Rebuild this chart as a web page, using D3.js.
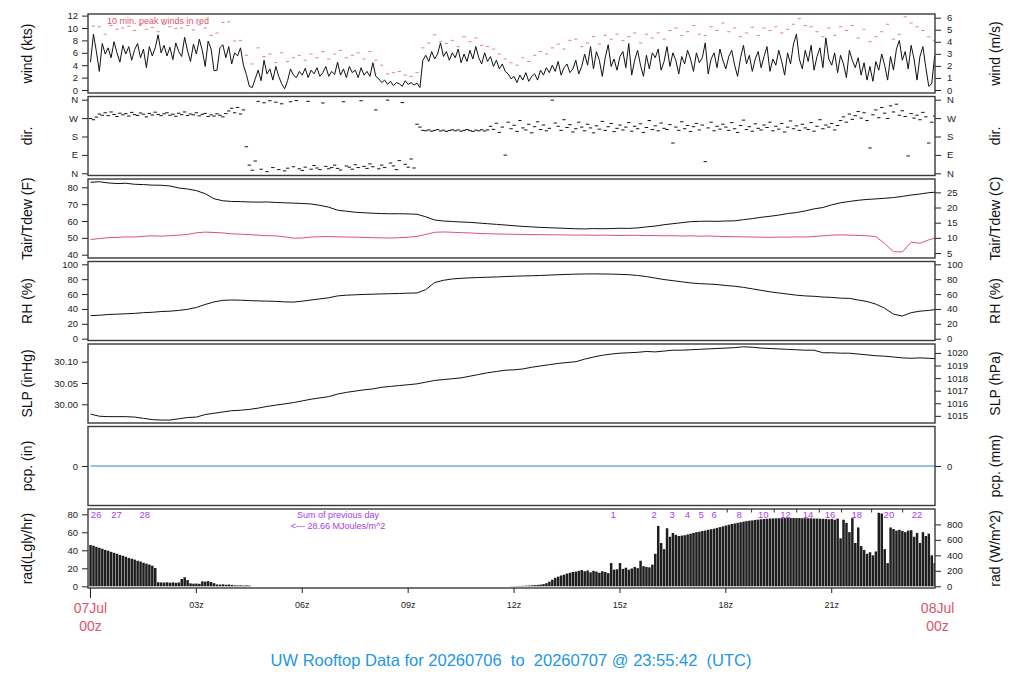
<!DOCTYPE html>
<html>
<head>
<meta charset="utf-8">
<script src="https://cdn.jsdelivr.net/npm/d3@7"></script>
<style>
  body { margin: 0; background: #fff; }
  text { font-family: "Liberation Sans", Arial, sans-serif; }
</style>
</head>
<body>
<svg id="chart"></svg>
<script>
/* DATA */
// wind speed, kts, 5-min samples from 00z
const windKts = [
  4.5, 9.0, 6.2, 3.0, 7.5, 5.8, 6.8, 5.2, 7.8, 6.0, 4.5, 7.2,
  5.8, 7.0, 4.8, 6.5, 7.5, 5.2, 6.6, 3.6, 7.0, 5.5, 6.8, 8.9,
  6.0, 7.2, 5.5, 6.9, 4.9, 7.6, 6.2, 5.4, 8.5, 6.3, 4.6, 7.4,
  5.8, 8.2, 6.4, 3.8, 7.9, 6.6, 3.1, 3.2, 6.8, 7.3, 5.2, 7.0,
  4.2, 6.0, 5.5, 6.8, 4.0, 2.5, 0.6, 0.4, 1.8, 3.2, 1.5, 4.8,
  2.6, 3.4, 1.6, 3.8, 2.2, 1.0, 0.2, 1.5, 3.4, 2.4, 2.0, 3.0,
  2.4, 3.5, 2.0, 3.2, 2.6, 3.6, 2.2, 2.8, 3.8, 2.2, 3.0, 2.5,
  4.5, 2.4, 3.4, 2.0, 3.8, 2.8, 3.2, 2.0, 3.6, 2.4, 3.0, 2.2,
  4.4, 2.2, 1.8, 1.2, 1.6, 0.9, 1.4, 0.7, 1.2, 1.0, 0.6, 1.5,
  0.9, 1.2, 0.8, 1.1, 0.4, 4.8, 5.6, 4.6, 6.2, 5.0, 5.8, 7.6,
  5.4, 6.2, 4.8, 6.0, 5.2, 6.6, 4.4, 5.8, 4.6, 6.4, 5.0, 7.0,
  5.2, 4.2, 6.0, 4.6, 5.4, 3.8, 4.8, 3.4, 4.2, 3.0, 2.6, 1.8,
  2.2, 1.2, 2.4, 1.6, 2.8, 1.4, 2.2, 2.6, 1.6, 3.2, 2.4, 3.6,
  2.8, 4.0, 3.0, 4.6, 2.4, 3.6, 4.2, 2.8, 3.4, 4.8, 2.6, 3.8,
  5.8, 4.0, 7.0, 3.4, 6.2, 4.8, 2.2, 5.2, 7.3, 3.8, 5.0, 3.2,
  5.4, 6.2, 3.6, 7.5, 2.4, 4.8, 6.4, 4.0, 2.2, 5.6, 3.4, 6.0,
  5.2, 6.6, 3.2, 4.6, 7.0, 3.8, 6.0, 4.8, 2.6, 5.4, 4.2, 6.4,
  5.0, 3.0, 6.0, 4.4, 5.2, 7.6, 2.6, 5.0, 6.0, 3.6, 6.6, 4.8,
  3.4, 5.4, 6.4, 4.0, 2.2, 5.2, 7.2, 4.2, 5.6, 3.0, 5.0, 6.2,
  3.6, 5.4, 7.0, 3.0, 5.0, 4.0, 6.4, 4.6, 2.4, 6.0, 4.2, 7.4,
  9.0, 5.0, 3.4, 6.4, 4.6, 7.2, 3.2, 5.4, 6.8, 3.6, 8.4, 5.0,
  4.0, 6.0, 2.8, 5.6, 4.2, 2.0, 6.4, 4.8, 3.6, 5.2, 2.4, 4.4,
  1.6, 3.8, 1.4, 4.6, 3.2, 5.8, 4.0, 1.6, 5.4, 3.2, 6.6, 8.0,
  4.8, 6.2, 3.4, 7.2, 5.0, 1.6, 5.4, 7.0, 3.6, 0.6, 1.0, 5.5
];
// 10 min peak winds, kts
const gustKts = [
  10.3, 10.2, 9.0, 10.4, 9.8, 10.0,
  10.3, 9.6, 10.5, 9.8, 10.1, 9.4,
  10.6, 10.2, 9.9, 10.0, 10.4, 9.7,
  10.5, 10.0, 8.8, 9.2, 10.9, 11.0,
  7.9, 8.0, 5.6, 4.2, 6.8, 5.4,
  5.8, 4.4, 6.0, 4.6, 5.2, 5.6,
  4.8, 5.8, 5.2, 6.2, 5.0, 5.8,
  6.4, 5.2, 5.6, 6.0, 5.0, 6.2,
  4.8, 4.0, 2.6, 2.8, 3.0, 2.4,
  2.2, 2.8, 6.8, 7.6, 8.9, 7.8,
  7.5, 8.0, 7.0, 8.6, 7.8, 8.4,
  7.2, 7.0, 6.6, 5.8, 5.0, 4.4,
  4.0, 5.2, 4.6, 5.6, 6.2, 5.8,
  6.8, 7.4, 6.6, 8.0, 8.2, 7.0,
  7.6, 8.6, 7.4, 8.8, 8.2, 9.0,
  8.0, 8.6, 9.2, 7.6, 9.0, 8.4,
  9.2, 8.2, 9.6, 10.0, 8.8, 9.4,
  10.4, 9.0, 8.8, 10.2, 9.6, 10.8,
  9.4, 10.0, 8.6, 9.2, 10.1, 8.8,
  10.0, 9.6, 10.2, 9.2, 9.8, 10.6,
  11.5, 10.4, 10.2, 9.4, 8.6, 10.0,
  8.8, 10.2, 9.6, 10.4, 8.4, 9.8,
  7.8, 8.6, 9.4, 10.6, 8.2, 9.0,
  11.8, 10.8, 10.2, 9.6, 8.6, 8.0
];
// wind direction, degrees, 5-min samples
const windDir = [
  268, 262, 275, 290, 284, 296, 282, 300, 288, 278, 294, 286,
  292, 280, 298, 287, 283, 295, 289, 276, 293, 285, 299, 288,
  282, 291, 296, 284, 289, 279, 294, 287, 300, 283, 290, 286,
  296, 281, 289, 293, 278, 286, 280, 291, 284, 276, 292, 305,
  318, 296, 322, 290, 310, 130, 40, 15, 60, 352, 20, 345,
  8, 355, 28, 348, 18, 340, 12, 25, 350, 32, 356, 22,
  14, 30, 352, 20, 38, 26, 18, 344, 34, 22, 28, 40,
  24, 16, 350, 36, 30, 20, 42, 28, 355, 34, 24, 46,
  32, 310, 22, 40, 28, 358, 50, 36, 18, 62, 346, 44,
  30, 70, 26, 240, 226, 210, 208, 212, 206, 210, 214, 207,
  211, 205, 209, 213, 208, 212, 206, 210, 214, 209, 205, 211,
  208, 213, 207, 212, 230, 215, 245, 200, 226, 89, 250, 218,
  235, 205, 258, 222, 212, 240, 198, 228, 252, 214, 236, 208,
  220, 358, 246, 230, 210, 262, 224, 238, 202, 218, 250, 226,
  208, 240, 222, 198, 232, 216, 254, 210, 228, 244, 204, 220,
  236, 212, 226, 248, 206, 230, 218, 242, 200, 224, 258, 214,
  232, 208, 246, 220, 214, 238, 148, 226, 210, 252, 218, 234,
  204, 228, 244, 212, 236, 57, 222, 250, 208, 230, 216, 240,
  226, 210, 248, 218, 200, 234, 260, 214, 228, 206, 242, 220,
  212, 236, 224, 250, 208, 230, 216, 244, 202, 226, 256, 218,
  232, 210, 240, 222, 214, 248, 206, 230, 262, 218, 236, 226,
  244, 212, 234, 258, 276, 250, 290, 264, 282, 302, 270, 296,
  258, 124, 286, 310, 272, 322, 294, 268, 330, 300, 338, 284,
  306, 278, 85, 292, 270, 284, 262, 298, 276, 148, 250, 280
];
// air temperature, F, 15-min samples
const tairF = [
  83.0, 83.3, 82.6, 82.2, 82.4, 81.8, 81.6, 81.3, 81.2, 80.8, 79.6, 79.0, 78.0, 76.2, 73.2, 72.0,
  71.6, 71.5, 71.3, 71.2, 71.3, 71.0, 70.8, 70.6, 70.4, 70.1, 69.3, 68.2, 66.4, 65.8, 65.2, 64.9,
  64.6, 64.4, 64.3, 64.3, 64.2, 64.0, 62.5, 60.6, 60.0, 59.7, 59.4, 59.2, 58.8, 58.4, 58.0, 57.6,
  57.2, 56.8, 56.5, 56.2, 56.0, 55.8, 55.6, 55.4, 55.3, 55.5, 55.4, 55.5, 55.7, 55.6, 55.9, 56.5,
  57.0, 57.8, 58.4, 59.0, 59.6, 59.8, 59.9, 59.8, 60.0, 60.1, 60.8, 61.4, 62.2, 62.8, 63.5, 64.4,
  65.0, 66.0, 67.2, 68.0, 69.6, 70.8, 71.6, 72.3, 72.8, 73.1, 73.5, 73.9, 74.6, 75.4, 76.0, 76.8,
  77.2
];
// dew point, F, 15-min samples
const tdewF = [
  49.0, 49.6, 50.1, 50.3, 50.6, 50.5, 50.9, 51.2, 51.0, 51.3, 51.6, 52.0, 53.0, 53.4, 53.2, 52.9,
  52.4, 52.2, 51.9, 51.6, 51.3, 51.2, 50.6, 49.8, 49.9, 50.5, 50.7, 50.8, 50.6, 50.5, 50.4, 50.3,
  50.1, 50.0, 49.9, 50.1, 50.4, 50.9, 52.0, 53.3, 53.5, 53.3, 53.1, 52.9, 52.6, 52.5, 52.3, 52.2,
  52.1, 52.0, 51.9, 51.9, 51.8, 51.8, 51.7, 51.6, 51.7, 51.5, 51.6, 51.5, 51.4, 51.5, 51.5, 51.3,
  51.4, 51.2, 51.3, 51.1, 51.2, 51.0, 51.1, 50.9, 50.8, 50.7, 50.6, 50.5, 50.4, 50.3, 50.5, 50.4,
  50.6, 50.5, 50.8, 51.2, 51.6, 51.8, 51.6, 51.4, 51.2, 50.8, 46.6, 41.8, 41.6, 47.4, 46.8, 48.8,
  50.3
];
// relative humidity, %, 15-min samples
const rhPct = [
  31.0, 31.5, 32.5, 33.0, 33.5, 34.0, 35.0, 35.5, 36.5, 37.0, 38.0, 39.5, 42.0, 46.0, 49.5, 51.5,
  52.0, 51.8, 51.2, 50.8, 50.5, 50.2, 49.5, 49.2, 50.5, 52.0, 53.5, 55.0, 57.5, 58.5, 59.0, 59.5,
  59.8, 60.2, 60.5, 60.8, 61.2, 61.5, 66.0, 75.5, 78.5, 80.3, 81.2, 81.8, 82.2, 82.6, 83.0, 83.5,
  84.0, 84.3, 84.6, 85.0, 85.5, 86.0, 86.4, 86.8, 87.0, 87.1, 87.0, 86.8, 86.5, 86.0, 85.0, 83.5,
  81.5, 79.5, 78.0, 76.5, 75.0, 74.0, 73.5, 72.8, 71.5, 70.5, 69.0, 67.0, 65.0, 63.0, 61.5, 60.0,
  58.5, 57.5, 57.0, 56.0, 55.5, 54.5, 54.2, 52.0, 50.0, 46.5, 41.0, 33.0, 30.5, 35.0, 37.0, 38.0,
  39.5
];
// sea level pressure, inHg, 15-min samples
const slpInHg = [
  29.977, 29.972, 29.971, 29.971, 29.971, 29.970, 29.967, 29.964, 29.963, 29.963, 29.966, 29.969, 29.970, 29.976, 29.979, 29.982,
  29.985, 29.986, 29.988, 29.991, 29.995, 29.998, 30.001, 30.004, 30.008, 30.012, 30.015, 30.018, 30.024, 30.028, 30.031, 30.034,
  30.036, 30.040, 30.042, 30.044, 30.046, 30.048, 30.052, 30.056, 30.058, 30.060, 30.062, 30.066, 30.070, 30.074, 30.077, 30.080,
  30.081, 30.083, 30.087, 30.090, 30.093, 30.096, 30.098, 30.100, 30.106, 30.111, 30.115, 30.118, 30.120, 30.121, 30.122, 30.124,
  30.123, 30.125, 30.127, 30.127, 30.128, 30.129, 30.130, 30.131, 30.132, 30.133, 30.135, 30.134, 30.132, 30.131, 30.130, 30.129,
  30.128, 30.127, 30.127, 30.121, 30.121, 30.120, 30.120, 30.118, 30.116, 30.114, 30.113, 30.111, 30.109, 30.108, 30.109, 30.108,
  30.107
];
// precipitation, in, hourly
const pcpIn = [0, 0, 0, 0, 0, 0, 0, 0, 0, 0, 0, 0, 0, 0, 0, 0, 0, 0, 0, 0, 0, 0, 0, 0, 0];
// solar radiation, W/m^2, 5-min samples
const radWm2 = [
  533, 524, 510, 497, 485, 470, 460, 445, 433, 421, 405, 395,
  382, 366, 356, 345, 330, 320, 304, 293, 281, 266, 236, 52,
  50, 48, 52, 47, 50, 45, 50, 95, 116, 80, 38, 34,
  36, 32, 64, 60, 66, 55, 40, 24, 22, 25, 20, 23,
  18, 12, 11, 13, 10, 12, 9, 0, 0, 0, 0, 0,
  0, 0, 0, 0, 0, 0, 0, 0, 0, 0, 0, 0,
  0, 0, 0, 0, 0, 0, 0, 0, 0, 0, 0, 0,
  0, 0, 0, 0, 0, 0, 0, 0, 0, 0, 0, 0,
  0, 0, 0, 0, 0, 0, 0, 0, 0, 0, 0, 0,
  0, 0, 0, 0, 0, 0, 0, 0, 0, 0, 0, 0,
  0, 0, 0, 0, 0, 0, 0, 0, 0, 0, 0, 0,
  0, 0, 0, 0, 0, 0, 0, 0, 0, 0, 0, 2,
  3, 4, 5, 6, 8, 10, 12, 15, 18, 22, 28, 40,
  60, 85, 110, 125, 140, 150, 165, 175, 185, 190, 200, 210,
  195, 205, 180, 200, 190, 175, 195, 185, 170, 300, 215, 220,
  300, 225, 240, 215, 230, 250, 235, 330, 260, 250, 245, 280,
  420, 780, 560, 480, 750, 640, 690, 665, 650, 655, 660, 670,
  680, 690, 700, 705, 715, 720, 730, 738, 745, 755, 765, 775,
  785, 795, 805, 812, 820, 828, 835, 842, 848, 852, 858, 862,
  866, 870, 872, 875, 877, 878, 880, 880, 881, 882, 882, 882,
  881, 882, 880, 880, 879, 878, 876, 875, 873, 872, 870, 866,
  870, 860, 875, 620, 860, 820, 700, 880, 560, 760, 520, 470,
  420, 440, 400, 450, 950, 940, 480, 300, 760, 740, 720, 730,
  715, 700, 720, 725, 640, 690, 560, 700, 650, 680, 400, 300
];
// running daily radiation sum marks (MJ/m^2), hour they were reached
const radMarkHour = [0.16, 0.74, 1.54, 14.81, 15.97, 16.48, 16.91, 17.30, 17.67, 18.04, 18.38, 18.73,
  19.06, 19.37, 19.69, 20.01, 20.33, 20.65, 20.95, 21.28, 21.71, 22.13, 22.62, 23.01, 23.42];
const radMarkText = ["26", "27", "28", "1", "2", "3", "4", "5", "6", "", "8", "",
  "10", "", "12", "", "14", "", "16", "", "18", "", "20", "", "22"];
const prevDaySum = 28.66;

const hourTicks = [0, 3, 6, 9, 12, 15, 18, 21];
const hourTickText = ["", "03z", "06z", "09z", "12z", "15z", "18z", "21z"];
const dayHours = [0, 24];
const dayText = ["07Jul", "08Jul"];

/* LAYOUT */
const width = 1024, height = 700;
const frameL = 88, frameR = 935, panelH = 79;
const panelTop = [14, 96.5, 179, 261.5, 344, 426.5, 509];
const red = "#DF536B", blue = "#2297E6", purple = "#A83AF0";
const KTS_PER_MS = 1.944, HPA_PER_INHG = 33.8639, WM2_PER_LGLY = 11.63;

const svg = d3.select("#chart").attr("width", width).attr("height", height);
svg.append("rect").attr("width", width).attr("height", height).attr("fill", "#fff");

const x = d3.scaleLinear().domain([0, 24]).range([90.5, 937.6]);

/* PANEL HELPERS */
function plotArea(k) {
  svg.append("clipPath").attr("id", "clip" + k)
    .append("rect")
    .attr("x", frameL).attr("y", panelTop[k])
    .attr("width", frameR - frameL).attr("height", panelH);
  return svg.append("g").attr("clip-path", `url(#clip${k})`);
}

function styleAxis(g) {
  g.select(".domain").remove();
  g.attr("font-size", "9.5px").attr("font-family", "Liberation Sans, Arial, sans-serif");
  g.selectAll(".tick line").attr("stroke", "#222");
  g.selectAll(".tick text").attr("fill", "#222");
}

function leftAxis(scale, values, fmt) {
  svg.append("g").attr("transform", `translate(${frameL},0)`)
    .call(d3.axisLeft(scale).tickValues(values).tickFormat(fmt || (d => d)).tickSize(6).tickPadding(4))
    .call(styleAxis);
}

function rightAxis(scale, values, fmt) {
  svg.append("g").attr("transform", `translate(${frameR},0)`)
    .call(d3.axisRight(scale).tickValues(values).tickFormat(fmt || (d => d)).tickSize(6).tickPadding(6))
    .call(styleAxis);
}

function sideTitle(txt, xc, k) {
  svg.append("text")
    .attr("transform", `translate(${xc},${panelTop[k] + panelH / 2}) rotate(-90)`)
    .attr("text-anchor", "middle")
    .attr("dominant-baseline", "central")
    .attr("font-size", "14px")
    .attr("fill", "#111")
    .text(txt);
}

/* 1. WIND */
let pTop = panelTop[0];
const yWind = d3.scaleLinear().domain([0, 12]).range([pTop + 76, pTop + 1.6]);
const yWindMs = d3.scaleLinear().domain([0, 12 / KTS_PER_MS]).range([pTop + 76, pTop + 1.6]);
const windArea = plotArea(0);
windArea.selectAll("rect.gust")
  .data(gustKts)
  .join("rect")
  .attr("class", "gust")
  .attr("x", (d, i) => x(i / 6 + 1 / 12) - 1.6)
  .attr("y", d => yWind(d) - 0.5)
  .attr("width", 3.2).attr("height", 1)
  .attr("fill", red).attr("opacity", 0.75);
windArea.append("path")
  .datum(windKts)
  .attr("fill", "none")
  .attr("stroke", "#111")
  .attr("stroke-width", 1)
  .attr("d", d3.line().x((d, i) => x(i / 12)).y(d => yWind(d)));
svg.append("text")
  .attr("x", 107).attr("y", pTop + 9.5)
  .attr("font-size", "9px").attr("fill", red)
  .text("10 min. peak winds in red");
leftAxis(yWind, [0, 2, 4, 6, 8, 10, 12]);
rightAxis(yWindMs, [0, 1, 2, 3, 4, 5, 6]);
sideTitle("wind (kts)", 27, 0);
sideTitle("wind (m/s)", 995, 0);

/* 2. DIRECTION */
pTop = panelTop[1];
const yDir = d3.scaleLinear().domain([0, 360]).range([pTop + 76.8, pTop + 3.2]);
const compass = d => ({0: "N", 90: "E", 180: "S", 270: "W", 360: "N"})[d];
plotArea(1).selectAll("rect.dir")
  .data(windDir)
  .join("rect")
  .attr("class", "dir")
  .attr("x", (d, i) => x(i / 12) - 1.7)
  .attr("y", d => yDir(d) - 0.5)
  .attr("width", 3.4).attr("height", 1)
  .attr("fill", "#111");
leftAxis(yDir, [0, 90, 180, 270, 360], compass);
rightAxis(yDir, [0, 90, 180, 270, 360], compass);
sideTitle("dir.", 27, 1);
sideTitle("dir.", 995, 1);

/* 3. TEMPERATURE / DEW POINT */
pTop = panelTop[2];
const yTemp = d3.scaleLinear().domain([40, 80]).range([pTop + 75.7, pTop + 8.3]);
const yTempC = d3.scaleLinear().domain([(40 - 32) * 5 / 9, (80 - 32) * 5 / 9]).range([pTop + 75.7, pTop + 8.3]);
const tempArea = plotArea(2);
const qline = y => d3.line().x((d, i) => x(i / 4)).y(d => y(d));
tempArea.append("path").datum(tdewF)
  .attr("fill", "none").attr("stroke", red).attr("stroke-width", 1)
  .attr("d", qline(yTemp));
tempArea.append("path").datum(tairF)
  .attr("fill", "none").attr("stroke", "#111").attr("stroke-width", 1)
  .attr("d", qline(yTemp));
leftAxis(yTemp, [40, 50, 60, 70, 80]);
rightAxis(yTempC, [5, 10, 15, 20, 25]);
sideTitle("Tair/Tdew (F)", 27, 2);
sideTitle("Tair/Tdew (C)", 995, 2);

/* 4. RELATIVE HUMIDITY */
pTop = panelTop[3];
const yRH = d3.scaleLinear().domain([0, 100]).range([pTop + 77.2, pTop + 2.8]);
plotArea(3).append("path").datum(rhPct)
  .attr("fill", "none").attr("stroke", "#111").attr("stroke-width", 1)
  .attr("d", qline(yRH));
leftAxis(yRH, [0, 20, 40, 60, 80, 100]);
rightAxis(yRH, [0, 20, 40, 60, 80, 100]);
sideTitle("RH (%)", 27, 3);
sideTitle("RH (%)", 995, 3);

/* 5. SEA LEVEL PRESSURE */
pTop = panelTop[4];
const ySlp = d3.scaleLinear().domain([30.00, 30.10]).range([pTop + 60.3, pTop + 17.7]);
const ySlpHpa = d3.scaleLinear().domain([30.00 * HPA_PER_INHG, 30.10 * HPA_PER_INHG]).range([pTop + 60.3, pTop + 17.7]);
plotArea(4).append("path").datum(slpInHg)
  .attr("fill", "none").attr("stroke", "#111").attr("stroke-width", 1)
  .attr("d", qline(ySlp));
leftAxis(ySlp, [30.00, 30.05, 30.10], d3.format(".2f"));
rightAxis(ySlpHpa, [1015, 1016, 1017, 1018, 1019, 1020]);
sideTitle("SLP (inHg)", 27, 4);
sideTitle("SLP (hPa)", 995, 4);

/* 6. PRECIPITATION */
pTop = panelTop[5];
const yPcp = d3.scaleLinear().domain([-1, 1]).range([pTop + panelH, pTop]);
plotArea(5).append("path").datum(pcpIn)
  .attr("fill", "none").attr("stroke", "#2F80D6").attr("stroke-width", 1)
  .attr("d", d3.line().x((d, i) => x(i)).y(d => yPcp(d)));
leftAxis(yPcp, [0]);
rightAxis(yPcp, [0]);
sideTitle("pcp. (in)", 27, 5);
sideTitle("pcp. (mm)", 995, 5);

/* 7. RADIATION */
pTop = panelTop[6];
const yRad = d3.scaleLinear().domain([0, 80]).range([pTop + 77.3, pTop + 5.3]);
const yRadW = d3.scaleLinear().domain([0, 80 * WM2_PER_LGLY]).range([pTop + 77.3, pTop + 5.3]);
plotArea(6).selectAll("rect.rad")
  .data(radWm2.map((v, i) => ({h: i / 12, v})).filter(d => d.v > 0))
  .join("rect")
  .attr("class", "rad")
  .attr("x", d => x(d.h) - 1.2)
  .attr("width", 2.5)
  .attr("y", d => yRadW(d.v))
  .attr("height", d => yRadW(0) - yRadW(d.v))
  .attr("fill", "#1e1e1e");
leftAxis(yRad, [0, 20, 40, 60, 80]);
rightAxis(yRadW, [0, 200, 400, 600, 800]);
sideTitle("rad(Lgly/hr)", 27, 6);
sideTitle("rad (W/m^2)", 995, 6);

// daily sum marks along the top of the radiation panel
svg.selectAll("line.radmark")
  .data(radMarkHour.filter((h, i) => radMarkText[i] === ""))
  .join("line")
  .attr("class", "radmark")
  .attr("x1", d => x(d)).attr("x2", d => x(d))
  .attr("y1", pTop).attr("y2", pTop + 3.5)
  .attr("stroke", "#333");
svg.selectAll("text.radmark")
  .data(radMarkHour.map((h, i) => ({h, t: radMarkText[i]})).filter(d => d.t !== ""))
  .join("text")
  .attr("class", "radmark")
  .attr("x", d => x(d.h)).attr("y", pTop + 9)
  .attr("text-anchor", "middle")
  .attr("font-size", "9.5px").attr("fill", purple)
  .text(d => d.t);
svg.append("text")
  .attr("x", 338).attr("y", pTop + 9)
  .attr("text-anchor", "middle").attr("font-size", "9px").attr("fill", purple)
  .text("Sum of previous day");
svg.append("text")
  .attr("x", 338).attr("y", pTop + 20)
  .attr("text-anchor", "middle").attr("font-size", "9px").attr("fill", purple)
  .text(`<--- ${prevDaySum.toFixed(2)} MJoules/m^2`);

/* FRAMES */
panelTop.forEach(t => {
  svg.append("rect")
    .attr("x", frameL).attr("y", t)
    .attr("width", frameR - frameL).attr("height", panelH)
    .attr("fill", "none").attr("stroke", "#3a3a3a").attr("stroke-width", 1.4);
});

/* TIME AXIS */
const bottom = panelTop[6] + panelH;
svg.selectAll("line.hour")
  .data(hourTicks)
  .join("line")
  .attr("class", "hour")
  .attr("x1", d => x(d)).attr("x2", d => x(d))
  .attr("y1", bottom).attr("y2", d => d === 0 ? bottom + 10 : bottom + 5)
  .attr("stroke", "#222");
svg.selectAll("text.hour")
  .data(hourTicks.map((h, i) => ({h, t: hourTickText[i]})))
  .join("text")
  .attr("class", "hour")
  .attr("x", d => x(d.h)).attr("y", bottom + 20)
  .attr("text-anchor", "middle").attr("font-size", "9px").attr("fill", "#222")
  .text(d => d.t);
dayHours.forEach((h, i) => {
  svg.append("text")
    .attr("x", x(h)).attr("y", bottom + 25)
    .attr("text-anchor", "middle").attr("font-size", "14px").attr("fill", red)
    .text(dayText[i]);
  svg.append("text")
    .attr("x", x(h)).attr("y", bottom + 43)
    .attr("text-anchor", "middle").attr("font-size", "14px").attr("fill", red)
    .text("00z");
});

/* TITLE */
svg.append("text")
  .attr("x", 511).attr("y", 666)
  .attr("text-anchor", "middle")
  .attr("font-size", "16.5px")
  .attr("fill", blue)
  .style("white-space", "pre")
  .text("UW Rooftop Data for 20260706  to  20260707 @ 23:55:42  (UTC)");
</script>
</body>
</html>
